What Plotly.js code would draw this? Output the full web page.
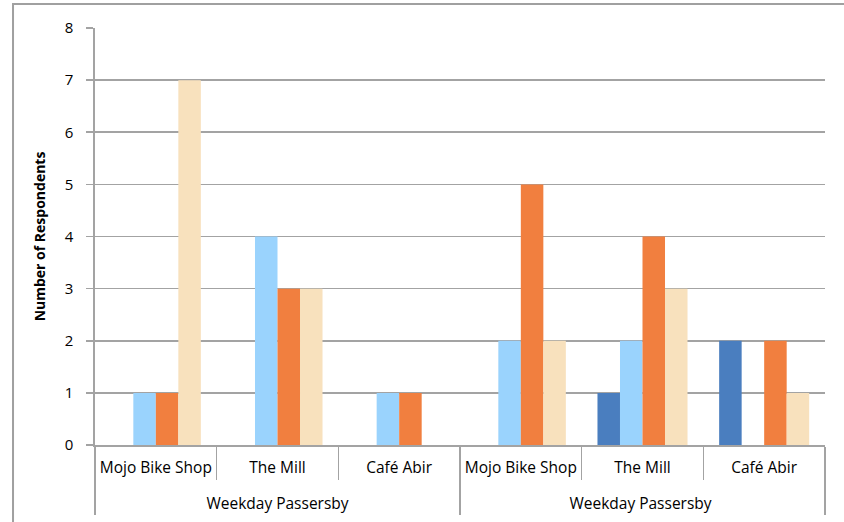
<!DOCTYPE html>
<html>
<head>
<meta charset="utf-8">
<script src="https://cdn.plot.ly/plotly-3.0.1.min.js"></script>
<style>html,body{margin:0;padding:0;background:#fff;}#chart{width:844px;height:522px;}</style>
</head>
<body>
<div id="chart"></div>
<script>
// Data
var groupLabels = ["Weekday Passersby", "Weekday Passersby"];
var categories = ["Mojo Bike Shop", "The Mill", "Café Abir"];
var seriesNames = ["Series 1", "Series 2", "Series 3", "Series 4"];
var seriesColors = ["#4A7EBF", "#9AD3FD", "#F17F3F", "#F8E1BD"];
// values per series, in order: group1 (Mojo, Mill, Café), group2 (Mojo, Mill, Café)
var series1 = [0, 0, 0, 0, 1, 2];
var series2 = [1, 4, 1, 2, 2, 0];
var series3 = [1, 3, 1, 5, 4, 2];
var series4 = [7, 3, 0, 2, 3, 1];
var yTicks = [0, 1, 2, 3, 4, 5, 6, 7, 8];

// Build multicategory x. Identical group names are made unique with trailing spaces
// (not rendered); a leading line break pushes the group tier down like the reference.
var xTop = [], xBottom = [];
groupLabels.forEach(function (g, gi) {
  categories.forEach(function (c) {
    xTop.push("<br>" + g + " ".repeat(gi));
    xBottom.push(c);
  });
});
var allSeries = [series1, series2, series3, series4];
var traces = allSeries.map(function (vals, i) {
  return {
    type: "bar",
    name: seriesNames[i],
    x: [xTop, xBottom],
    y: vals,
    marker: { color: seriesColors[i], line: { width: 0 } },
    hoverinfo: "skip"
  };
});

var fam = "Open Sans, Liberation Sans, sans-serif";
var gridColor = "#A3A3A3";

var layout = {
  width: 844,
  height: 522,
  margin: { l: 95, r: 19, t: 28, b: 77 },
  paper_bgcolor: "#fff",
  plot_bgcolor: "#fff",
  barmode: "group",
  bargap: 0.26,
  bargroupgap: 0,
  showlegend: false,
  font: { family: fam, size: 15, color: "#000" },
  xaxis: {
    type: "multicategory",
    tickangle: 0,
    showline: true,
    linecolor: gridColor,
    linewidth: 1.6,
    ticks: "outside",
    ticklen: 33,
    tickwidth: 1.6,
    tickcolor: gridColor,
    ticklabelstandoff: 8,
    showdividers: true,
    dividercolor: gridColor,
    dividerwidth: 1.6,
    tickfont: { family: fam, size: 15.5, color: "#000" },
    showgrid: false,
    zeroline: false
  },
  yaxis: {
    range: [0, 8],
    tickvals: yTicks,
    ticktext: yTicks.map(String),
    showline: true,
    linecolor: gridColor,
    linewidth: 1.6,
    ticks: "outside",
    ticklen: 7,
    tickwidth: 1.6,
    tickcolor: gridColor,
    ticklabelstandoff: 10,
    showgrid: true,
    gridcolor: gridColor,
    gridwidth: 1.6,
    zeroline: false,
    tickfont: { family: fam, size: 15, color: "#000" },
    title: {
      text: "<b>Number of Respondents</b>",
      font: { family: fam, size: 14, color: "#000" },
      standoff: 16
    }
  },
  shapes: [
    {
      type: "path",
      xref: "paper",
      yref: "paper",
      path: "M -0.1123,-0.3 L -0.1123,1.0576 L 1.1,1.0576",
      line: { color: "#A0A0A0", width: 2 },
      layer: "above"
    }
  ]
};

Plotly.newPlot("chart", traces, layout, { displayModeBar: false, staticPlot: true });
</script>
</body>
</html>
